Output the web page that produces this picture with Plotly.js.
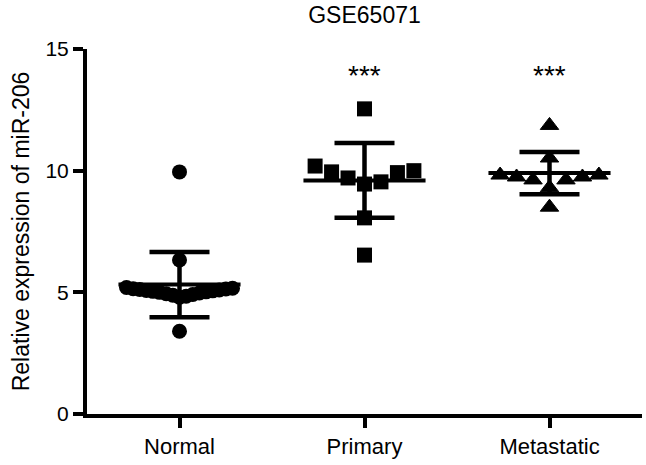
<!DOCTYPE html>
<html>
<head>
<meta charset="utf-8">
<script src="https://cdn.plot.ly/plotly-3.0.1.min.js"></script>
<style>
  html, body { margin: 0; padding: 0; background: #fff; }
  #chart { width: 646px; height: 465px; }
</style>
</head>
<body>
<div id="chart"></div>
<script>
// ---- data ----
const categories = ['Normal', 'Primary', 'Metastatic'];
const normalValues = [9.95, 6.33, 3.40, 4.80, 4.84, 4.88, 4.91, 4.94, 4.97, 5.00, 5.02, 5.04, 5.06, 5.08, 5.10, 5.12, 5.14, 5.15, 5.17, 5.20];
const primaryValues = [12.54, 10.19, 9.95, 9.70, 9.45, 9.54, 9.92, 10.00, 8.06, 6.53];
const metastaticValues = [11.86, 10.52, 9.82, 9.74, 9.62, 9.30, 9.62, 9.74, 9.82, 8.50];
const groupMeans = [5.32, 9.60, 9.90];
const groupSD = [1.34, 1.54, 0.87];
const significance = ['', '***', '***'];
const chartTitle = 'GSE65071';
const yTitle = 'Relative expression of miR-206';
const yTicks = [0, 5, 10, 15];

// ---- scatter arrangement (GraphPad-like): points of similar value spread sideways ----
const FONT = 'Liberation Sans, Arial, Helvetica, sans-serif';
const binSize = 0.8;      // data units
const stepMax = 0.089;    // category units between neighbours
const spreadMax = 0.573;  // maximum total spread, category units

function arrange(values, center) {
  const idx = values.map((v, i) => i).sort((a, b) => values[a] - values[b]);
  const xs = new Array(values.length);
  let bins = [];
  let cur = [];
  let start = null;
  idx.forEach(i => {
    if (start === null || values[i] - start > binSize) {
      if (cur.length) bins.push(cur);
      cur = [i];
      start = values[i];
    } else {
      cur.push(i);
    }
  });
  if (cur.length) bins.push(cur);
  bins.forEach(bin => {
    const n = bin.length;
    const step = n > 1 ? Math.min(stepMax, spreadMax / (n - 1)) : 0;
    const slots = bin.map((_, k) => (k === 0 ? 0 : (k % 2 === 1 ? (k + 1) / 2 : -k / 2)));
    const meanSlot = slots.reduce((a, b) => a + b, 0) / n;
    bin.forEach((i, k) => { xs[i] = center + (slots[k] - meanSlot) * step; });
  });
  return xs;
}

const groups = [normalValues, primaryValues, metastaticValues];
const symbols = ['circle', 'square', 'triangle-up'];
const sizes = [15, 15, 16];

const traces = groups.map((vals, g) => ({
  type: 'scatter',
  mode: 'markers',
  x: arrange(vals, g),
  y: vals,
  marker: { symbol: symbols[g], size: sizes[g], color: '#000', line: { width: g === 2 ? 1 : 0, color: '#000' } },
  hoverinfo: 'skip'
}));

// mean lines
const mx = [], my = [];
groupMeans.forEach((m, g) => { mx.push(g - 0.33, g + 0.33, null); my.push(m, m, null); });
traces.push({
  type: 'scatter', mode: 'lines', x: mx, y: my,
  line: { color: '#000', width: 4 }, hoverinfo: 'skip'
});

// SD error bars
traces.push({
  type: 'scatter', mode: 'markers',
  x: categories.map((c, g) => g), y: groupMeans,
  marker: { size: 1, opacity: 0 },
  error_y: { type: 'data', array: groupSD, visible: true, color: '#000', thickness: 4.5, width: 30 },
  hoverinfo: 'skip'
});

const annotations = significance.map((s, g) => ({
  x: g, y: 13.9, xref: 'x', yref: 'y', text: s, showarrow: false,
  yanchor: 'middle', font: { family: FONT, size: 28, color: '#000' }
})).filter(a => a.text);

const layout = {
  width: 646, height: 465,
  margin: { l: 87, r: 4, t: 49, b: 51 },
  paper_bgcolor: '#fff', plot_bgcolor: '#fff',
  showlegend: false,
  font: { family: FONT, color: '#000' },
  title: {
    text: chartTitle, x: 0.5, xref: 'paper', xanchor: 'center',
    y: 0.968, yref: 'container', yanchor: 'middle',
    font: { family: FONT, size: 23, color: '#000' }
  },
  xaxis: {
    range: [-0.5, 2.5], tickvals: [0, 1, 2], ticktext: categories,
    showline: true, linecolor: '#000', linewidth: 4,
    ticks: 'outside', ticklen: 10, tickwidth: 4, tickcolor: '#000',
    showgrid: false, zeroline: false,
    tickfont: { family: FONT, size: 22, color: '#000' }
  },
  yaxis: {
    range: [0, 15], tickvals: yTicks, ticktext: yTicks.map(String),
    showline: true, linecolor: '#000', linewidth: 4,
    ticks: 'outside', ticklen: 10, tickwidth: 4, tickcolor: '#000',
    showgrid: false, zeroline: false,
    tickfont: { family: FONT, size: 21, color: '#000' },
    title: { text: yTitle, font: { family: FONT, size: 23, color: '#000' }, standoff: 10 }
  },
  annotations: annotations
};

Plotly.newPlot('chart', traces, layout, { displayModeBar: false, staticPlot: true });
</script>
</body>
</html>
